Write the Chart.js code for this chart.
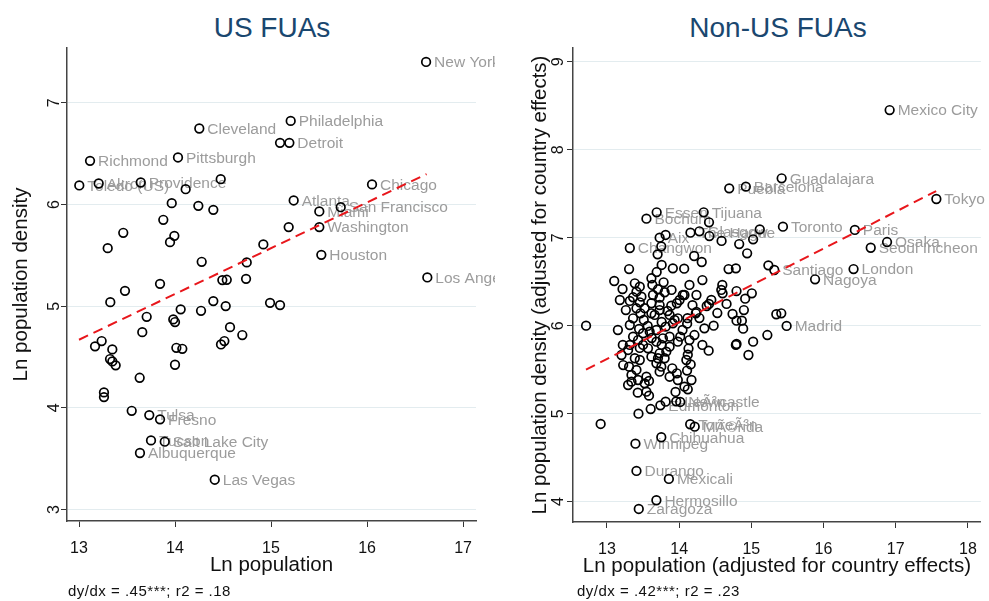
<!DOCTYPE html>
<html>
<head>
<meta charset="utf-8">
<script src="https://cdn.jsdelivr.net/npm/chart.js@4.4.1/dist/chart.umd.min.js"></script>
<style>
  body { margin: 0; background: #fff; width: 989px; height: 601px; position: relative; overflow: hidden; font-family: 'Liberation Sans', Arial, sans-serif; }
  canvas { position: absolute; top: 0; }
  #chartUS { left: 0; }
  #chartNonUS { left: 495px; }
  .ttl { position: absolute; top: 14px; font-size: 28px; line-height: 28px; color: #1a476f; transform: translateX(-50%); white-space: nowrap; }
  .note { position: absolute; top: 583px; font-size: 15px; line-height: 15px; letter-spacing: 0.5px; color: #111; white-space: nowrap; }
</style>
</head>
<body>
<div class="ttl" style="left:272px">US FUAs</div>
<div class="ttl" style="left:778px">Non-US FUAs</div>
<canvas id="chartUS" width="495" height="601"></canvas>
<canvas id="chartNonUS" width="494" height="601"></canvas>
<div class="note" style="left:68px">dy/dx = .45***; r2 = .18</div>
<div class="note" style="left:577px">dy/dx = .42***; r2 = .23</div>
<script>
// ============================================================
// DATA - US FUAs
// ============================================================
const usNames = ['New York','Philadelphia','Cleveland','Detroit','Richmond','Pittsburgh','Toledo (US)','Akron','Providence',
  'Chicago','Atlanta','San Francisco','Miami','Washington','Houston','Los Angeles','Tulsa','Fresno','Tucson',
  'Salt Lake City','Albuquerque','Las Vegas'];
const usNamedX = [16.615,15.205,14.253,15.191,13.115,14.031,13.003,13.205,13.643,
  16.052,15.236,15.726,15.503,15.503,15.524,16.628,13.732,13.844,13.750,
  13.893,13.635,14.414];
const usNamedY = [7.403,6.823,6.748,6.607,6.430,6.463,6.188,6.207,6.217,
  6.198,6.040,5.974,5.932,5.778,5.505,5.283,3.929,3.887,3.680,
  3.667,3.556,3.293];
const usX = [15.094,14.476,14.111,13.966,14.243,14.399,13.878,15.184,13.461,13.993,13.948,13.299,14.920,
  14.278,14.747,14.493,14.539,14.740,13.844,13.479,13.326,14.990,15.094,14.399,14.528,14.059,14.271,
  13.705,13.982,14.000,14.573,13.659,14.701,14.479,14.514,13.236,13.167,13.347,14.014,14.076,13.323,
  13.347,13.382,14.000,13.632,13.260,13.260,13.549];
const usY = [6.607,6.250,6.151,6.014,5.987,5.948,5.850,5.778,5.722,5.692,5.630,5.571,5.608,
  5.437,5.431,5.257,5.260,5.269,5.220,5.151,5.040,5.033,5.011,5.050,5.001,4.969,4.955,
  4.896,4.870,4.844,4.794,4.745,4.716,4.624,4.657,4.657,4.605,4.575,4.591,4.581,4.480,
  4.457,4.418,4.424,4.296,4.152,4.106,3.971];
const usFitX = [13.00, 16.62];
const usFitY = [4.67, 6.30];
const usXTicks = [13, 14, 15, 16, 17];
const usYTicks = [3, 4, 5, 6, 7];

// ============================================================
// DATA - NON-US FUAs
// ============================================================
const nonNames = ['Mexico City','Guadalajara','Barcelona','Puebla','Tokyo','Tijuana','Essen','Bochum','Toronto',
  'Paris','Osaka','Seoul Incheon','Changwon','Aix','The Hague','Glasgow','Santiago','London','Nagoya','Madrid',
  'Newcastle','Edmonton','LeÃ³n','TorreÃ³n','MÃ©rida','Winnipeg','Chihuahua','Durango','Mexicali','Hermosillo','Zaragoza'];
const nonNamedX = [16.916,15.420,14.924,14.694,17.563,14.340,13.689,13.547,15.438,
  16.434,16.880,16.654,13.317,13.730,14.157,14.281,15.318,16.416,15.883,15.489,
  14.015,13.740,13.960,14.153,14.216,13.395,13.753,13.409,13.858,13.685,13.441];
const nonNamedY = [8.451,7.675,7.580,7.561,7.440,7.289,7.289,7.216,7.125,
  7.088,6.951,6.886,6.883,7.000,7.057,7.073,6.633,6.644,6.527,5.997,
  5.133,5.095,5.140,4.880,4.852,4.659,4.732,4.349,4.258,4.016,3.917];
const nonX = [13.813,14.414,13.753,13.702,14.208,14.313,13.758,13.913,14.070,13.307,14.588,14.832,15.117,
  15.025,14.942,14.685,14.786,15.236,14.322,13.101,13.216,14.598,14.584,14.602,14.795,15.007,14.915,
  14.897,15.346,15.415,14.869,14.887,15.222,15.025,14.382,14.414,14.657,14.231,14.740,14.795,14.111,
  14.350,14.478,14.795,14.419,14.074,12.711,12.913,13.437,13.606,13.813,14.120,13.427,13.547,13.583,
  14.409,14.786,14.960,14.130,14.120,14.100,14.160,14.110,
  13.386,13.455,13.616,13.785,13.629,13.707,13.409,13.362,13.478,13.799,13.638,13.730,14.051,14.006,
  13.317,13.455,13.616,13.730,13.891,13.968,
  13.409,13.464,13.362,13.616,13.730,13.868,13.982,13.317,13.445,13.500,13.592,13.685,13.813,13.913,
  13.362,13.431,13.500,13.569,13.685,13.775,13.868,13.982,14.015,13.317,13.293,13.202,13.386,13.455,
  13.616,13.707,13.799,13.225,13.307,13.685,13.753,13.409,13.340,13.431,13.730,13.905,13.968,13.293,
  13.340,13.547,13.583,13.523,13.868,13.982,14.074,14.116,14.185,14.240,13.868,13.822,13.730,
  13.523,13.661,13.758,13.565,13.840,13.937,13.510,13.620,13.455,13.758,14.047,14.143,14.212,14.281,
  13.179,13.262,13.152,13.220,13.689,13.895,14.143,14.240,14.446,14.529,14.322,14.171,13.950];
const nonY = [7.031,7.175,6.902,6.811,6.792,6.724,6.690,6.652,6.648,6.644,6.963,6.928,7.095,
  6.982,6.823,6.644,6.652,6.686,6.519,6.508,6.417,6.463,6.406,6.368,6.394,6.368,6.307,
  6.178,6.130,6.141,6.057,5.966,5.894,5.818,6.224,6.247,6.247,6.141,6.133,6.057,6.023,
  5.970,6.000,5.792,7.019,6.349,6.000,4.883,5.000,5.053,5.136,5.277,5.239,5.250,5.205,
  5.716,5.781,5.667,5.740,5.670,5.610,5.560,5.490,
  6.482,6.443,6.539,6.493,6.463,6.414,6.386,6.323,6.330,6.380,6.349,6.318,6.349,6.292,
  6.281,6.266,6.255,6.235,6.227,6.255,
  6.198,6.141,6.084,6.141,6.178,6.122,6.084,6.008,5.963,5.914,5.932,5.951,5.989,6.027,
  5.875,5.837,5.781,5.743,5.818,5.857,5.875,5.818,5.875,5.781,5.724,5.667,5.630,5.610,
  5.648,5.630,5.630,5.553,5.534,5.573,5.534,5.497,5.440,5.383,5.477,5.516,5.459,5.326,
  5.364,5.420,5.372,5.345,5.420,5.383,5.307,6.085,6.233,6.156,5.762,5.705,5.686,
  6.199,6.122,6.042,5.997,6.167,6.065,6.065,5.860,5.747,5.781,5.951,5.837,5.894,6.087,
  6.292,6.178,5.951,5.781,6.610,6.406,6.463,6.349,6.292,6.144,5.781,5.383,5.247];
const nonFitX = [12.71, 17.56];
const nonFitY = [5.50, 7.53];
const nonXTicks = [13, 14, 15, 16, 17, 18];
const nonYTicks = [4, 5, 6, 7, 8, 9];

// ============================================================
// HELPERS
// ============================================================
const FONT = "'Liberation Sans', Arial, sans-serif";
const toPts = (xs, ys) => xs.map((v, i) => ({ x: v, y: ys[i] }));

const pointLabels = {
  id: 'pointLabels',
  beforeDatasetsDraw(chart, args, opts) {
    const { ctx, scales: { x, y } } = chart;
    ctx.save();
    ctx.font = '15.5px ' + FONT;
    ctx.fillStyle = '#9c9c9c';
    ctx.textBaseline = 'middle';
    opts.names.forEach((n, i) => {
      ctx.fillText(n, x.getPixelForValue(opts.xs[i]) + 8, y.getPixelForValue(opts.ys[i]) + 1);
    });
    ctx.restore();
  }
};

function makeChart(id, cfg) {
  const ctx = document.getElementById(id).getContext('2d');
  return new Chart(ctx, {
    type: 'scatter',
    data: {
      datasets: [
        {
          type: 'line',
          data: toPts(cfg.fitX, cfg.fitY),
          borderColor: '#e8161b',
          borderWidth: 2,
          borderDash: [10, 6],
          pointRadius: 0,
          fill: false,
        },
        {
          data: toPts(cfg.namedX, cfg.namedY).concat(toPts(cfg.xs, cfg.ys)),
          pointStyle: 'circle',
          pointRadius: 4.3,
          borderWidth: 1.7,
          borderColor: '#000',
          backgroundColor: 'rgba(0,0,0,0)',
        }
      ]
    },
    options: {
      responsive: false,
      animation: false,
      events: [],
      layout: { padding: cfg.padding },
      plugins: {
        legend: { display: false },
        tooltip: { enabled: false },
        pointLabels: { names: cfg.names, xs: cfg.namedX, ys: cfg.namedY }
      },
      scales: {
        x: {
          type: 'linear',
          min: cfg.xMin, max: cfg.xMax,
          afterBuildTicks: s => { s.ticks = cfg.xTicks.map(v => ({ value: v })); },
          afterFit: s => { s.height = 60; },
          ticks: { font: { family: FONT, size: 16 }, color: '#111', padding: 12, maxRotation: 0 },
          grid: { drawOnChartArea: false, drawTicks: true, tickLength: 6, tickColor: '#333' },
          border: { color: '#444', width: 1.5 },
          title: { display: true, text: cfg.xTitle, font: { family: FONT, size: 20.5 }, color: '#111', padding: { bottom: 3 } }
        },
        y: {
          type: 'linear',
          min: cfg.yMin, max: cfg.yMax,
          afterBuildTicks: s => { s.ticks = cfg.yTicks.map(v => ({ value: v })); },
          afterFit: s => { s.width = cfg.yWidth; },
          ticks: { font: { family: FONT, size: 16 }, color: '#111', padding: cfg.yTickPad, minRotation: 90, maxRotation: 90, crossAlign: 'center' },
          grid: { color: '#e3ecef', lineWidth: 1, drawTicks: true, tickLength: 6, tickColor: '#333' },
          border: { color: '#444', width: 1.5 },
          title: { display: true, text: cfg.yTitle, font: { family: FONT, size: 20.5 }, color: '#111', padding: { top: cfg.yTitlePad } }
        }
      }
    },
    plugins: [pointLabels]
  });
}

makeChart('chartUS', {
  names: usNames, namedX: usNamedX, namedY: usNamedY, xs: usX, ys: usY,
  fitX: usFitX, fitY: usFitY, xTicks: usXTicks, yTicks: usYTicks,
  xMin: 12.875, xMax: 17.135, yMin: 2.887, yMax: 7.54,
  padding: { top: 48, right: 19, bottom: 20, left: 0 }, yWidth: 67, yTitlePad: 9, yTickPad: 2,
  xTitle: 'Ln population',
  yTitle: 'Ln population density'
});

makeChart('chartNonUS', {
  names: nonNames, namedX: nonNamedX, namedY: nonNamedY, xs: nonX, ys: nonY,
  fitX: nonFitX, fitY: nonFitY, xTicks: nonXTicks, yTicks: nonYTicks,
  xMin: 12.53, xMax: 18.18, yMin: 3.769, yMax: 9.156,
  padding: { top: 48, right: 6, bottom: 19, left: 0 }, yWidth: 78, yTitlePad: 33, yTickPad: 4,
  xTitle: 'Ln population (adjusted for country effects)',
  yTitle: 'Ln population density (adjusted for country effects)'
});
</script>
</body>
</html>
